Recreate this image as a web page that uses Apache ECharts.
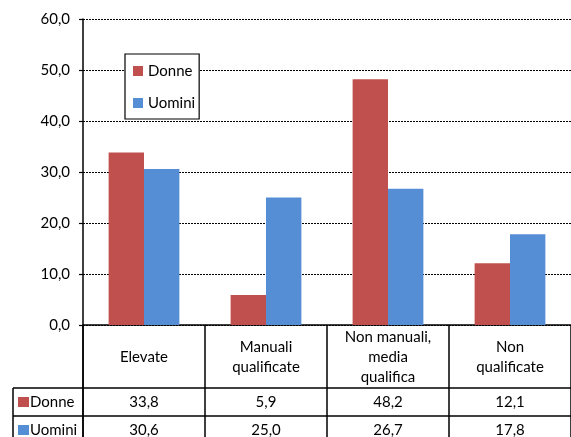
<!DOCTYPE html>
<html>
<head>
<meta charset="utf-8">
<script src="https://cdn.jsdelivr.net/npm/echarts@6/dist/echarts.min.js"></script>
<style>
  html, body { margin: 0; padding: 0; background: #fff; }
  #chart { width: 571px; height: 437px; }
</style>
</head>
<body>
<div id="chart"></div>
<script>
// Categories of the occupational level and the two series
var categories = ['Elevate', 'Manuali\nqualificate', 'Non manuali,\nmedia\nqualifica', 'Non\nqualificate'];
var donne = [33.8, 5.9, 48.2, 12.1];
var uomini = [30.6, 25.0, 26.7, 17.8];
var seriesNames = ['Donne', 'Uomini'];
var seriesColors = ['#C0504D', '#558ED5'];
var yTicks = [0, 10, 20, 30, 40, 50, 60];

var FONT = 'Lato';
var FS = 15;
function fmt(v) { return v.toFixed(1).replace('.', ','); }

var chart = echarts.init(document.getElementById('chart'), null, { renderer: 'canvas' });

var option = {
  animation: false,
  backgroundColor: '#fff',
  textStyle: { fontFamily: FONT, color: '#000' },
  grid: { left: 83, top: 19, width: 490, height: 306, containLabel: false },
  legend: {
    data: seriesNames,
    orient: 'vertical',
    left: 125,
    top: 54,
    padding: [8, 4, 7, 8],
    itemGap: 14,
    itemWidth: 10,
    itemHeight: 10,
    icon: 'rect',
    borderColor: '#000',
    borderWidth: 1.2,
    backgroundColor: '#fff',
    textStyle: { fontFamily: FONT, fontSize: FS, color: '#000', lineHeight: 18 }
  },
  xAxis: {
    type: 'category',
    data: categories,
    boundaryGap: true,
    axisLine: { show: true, lineStyle: { color: '#000', width: 1.5 } },
    axisTick: { show: true, alignWithLabel: false, length: 113, lineStyle: { color: '#000', width: 1.5 } },
    axisLabel: {
      interval: 0,
      margin: 32,
      verticalAlign: 'middle',
      fontFamily: FONT,
      fontSize: FS,
      lineHeight: 20,
      color: '#000',
      align: 'center'
    },
    splitLine: { show: false }
  },
  yAxis: {
    type: 'value',
    min: yTicks[0],
    max: yTicks[yTicks.length - 1],
    interval: 10,
    axisLine: { show: true, lineStyle: { color: '#000', width: 1.5 } },
    axisTick: { show: true, inside: false, length: 4, lineStyle: { color: '#000', width: 1.2 } },
    axisLabel: {
      margin: 13,
      fontFamily: FONT,
      fontSize: FS,
      color: '#000',
      formatter: function (v) { return fmt(v); }
    },
    splitLine: { show: true, lineStyle: { color: '#000', width: 1, type: [2, 1] } }
  },
  series: [
    {
      name: seriesNames[0],
      type: 'bar',
      data: donne,
      barGap: '0%',
      barCategoryGap: '42%',
      itemStyle: { color: seriesColors[0] }
    },
    {
      name: seriesNames[1],
      type: 'bar',
      data: uomini,
      barGap: '0%',
      barCategoryGap: '42%',
      itemStyle: { color: seriesColors[1] }
    }
  ]
};

chart.setOption(option);

// Data table rows below the category labels
function buildTable() {
  var y0 = chart.convertToPixel({ yAxisIndex: 0 }, 0);
  var c0 = chart.convertToPixel({ xAxisIndex: 0 }, 0);
  var c1 = chart.convertToPixel({ xAxisIndex: 0 }, 1);
  var band = c1 - c0;
  var leftAxis = c0 - band / 2;
  var rowTop = y0 + 63;
  var rowH = 28;
  var tableLeft = 13;
  var rows = [donne, uomini];
  var els = [];
  var lineStyle = { stroke: '#000', lineWidth: 1.5 };

  for (var r = 0; r < rows.length; r++) {
    var top = rowTop + r * rowH;
    els.push({
      type: 'line',
      shape: { x1: tableLeft, y1: top, x2: 571, y2: top },
      style: lineStyle
    });
    var cy = top + rowH / 2;
    els.push({
      type: 'rect',
      shape: { x: 18, y: cy - 5, width: 11, height: 10 },
      style: { fill: seriesColors[r] }
    });
    els.push({
      type: 'text',
      style: {
        x: 30, y: cy, text: seriesNames[r],
        font: FS + 'px ' + FONT, fill: '#000',
        textAlign: 'left', textVerticalAlign: 'middle'
      }
    });
    for (var i = 0; i < rows[r].length; i++) {
      var cx = chart.convertToPixel({ xAxisIndex: 0 }, i);
      els.push({
        type: 'text',
        style: {
          x: cx, y: cy, text: fmt(rows[r][i]),
          font: FS + 'px ' + FONT, fill: '#000',
          textAlign: 'center', textVerticalAlign: 'middle'
        }
      });
    }
  }
  els.push({
    type: 'line',
    shape: { x1: tableLeft, y1: rowTop, x2: tableLeft, y2: 437 },
    style: lineStyle
  });
  els.push({
    type: 'line',
    shape: { x1: leftAxis, y1: y0, x2: leftAxis, y2: 437 },
    style: lineStyle
  });
  chart.setOption({ graphic: els });
}
buildTable();
</script>
</body>
</html>
